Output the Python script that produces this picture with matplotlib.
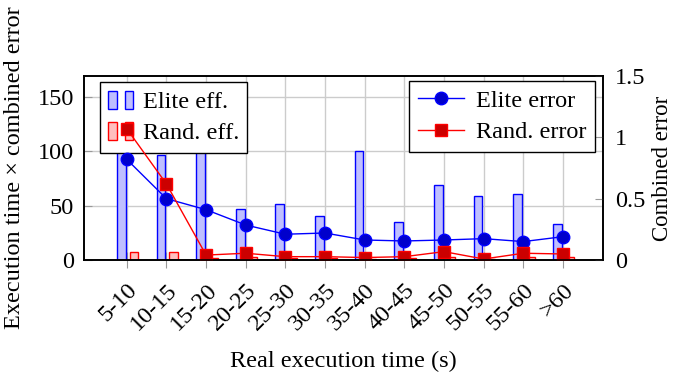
import numpy as np
import matplotlib.pyplot as plt
import matplotlib.transforms as mtrans
from matplotlib.patches import Patch
from matplotlib.legend_handler import HandlerTuple

plt.rcParams['font.family'] = ['Liberation Serif', 'DejaVu Serif']
plt.rcParams['font.size'] = 17.5

cats = ['5-10', '10-15', '15-20', '20-25', '25-30', '30-35', '35-40',
        '40-45', '45-50', '50-55', '55-60', '>60']
elite_eff = [120, 96, 105, 47, 51, 40.5, 100, 35, 69, 59, 60.5, 33.5]
rand_eff = [7.5, 7.5, 2, 2.5, 1.5, 1.5, 1, 1.5, 3, 1, 3, 3]
elite_err = [0.82, 0.50, 0.41, 0.285, 0.21, 0.22, 0.163, 0.155, 0.163, 0.174, 0.15, 0.19]
rand_err = [1.07, 0.62, 0.04, 0.055, 0.027, 0.027, 0.02, 0.027, 0.068, 0.008, 0.055, 0.049]

x = np.arange(len(cats))

fig = plt.figure(figsize=(6.75, 3.75), dpi=100)
ax = fig.add_axes([0.1244, 0.3067, 0.7689, 0.4906])
ax2 = ax.twinx()

ax.set_axisbelow(True)
ax.grid(True, color='#cccccc', linewidth=1)
ax.bar(x - 0.14, elite_eff, 0.22, color='#bfbfff', edgecolor='#0000ff', linewidth=1)
ax.bar(x + 0.18, rand_eff, 0.22, color='#ffbfbf', edgecolor='#ff0000', linewidth=1)

ax2.plot(x, elite_err, color='#0000ff', lw=1, marker='o', ms=9,
         mfc='#0000cc', mec='#0000ff', label='Elite error')
ax2.plot(x, rand_err, color='#ff0000', lw=1, marker='s', ms=8.5,
         mfc='#cc0000', mec='#ff0000', label='Rand. error')

ax.set_xlim(-1.08, 12.01)
ax.set_ylim(0, 169)
ax2.set_ylim(0, 1.5)
ax.set_xticks(x)
ax.set_xticklabels(cats, rotation=45, ha='right', rotation_mode='anchor')
shift = mtrans.ScaledTranslation(0.09, 0, fig.dpi_scale_trans)
for lab in ax.get_xticklabels():
    lab.set_transform(lab.get_transform() + shift)
ax.set_yticks([0, 50, 100, 150])
ax2.set_yticks([0, 0.5, 1, 1.5])
ax2.set_yticklabels(['0', '0.5', '1', '1.5'])
ax.tick_params(axis='x', direction='inout', length=12, color='#999999', pad=8)
ax.tick_params(axis='y', direction='in', length=6, color='#999999', pad=7)
ax2.tick_params(axis='y', direction='in', length=6, color='#999999', pad=8.5)
for a in (ax, ax2):
    for s in a.spines.values():
        s.set_linewidth(1.2)

ax.set_xlabel('Real execution time (s)', labelpad=12)
ax.set_ylabel('Execution time × combined error', labelpad=9)
ax2.set_ylabel('Combined error', labelpad=5, fontsize=16.5)

h1 = (Patch(fc='#bfbfff', ec='#0000ff'), Patch(fc='#bfbfff', ec='#0000ff'))
h2 = (Patch(fc='#ffbfbf', ec='#ff0000'), Patch(fc='#ffbfbf', ec='#ff0000'))
leg1 = ax.legend([h1, h2], ['Elite eff.', 'Rand. eff.'], loc='upper left',
                 bbox_to_anchor=(16 / 519, 1 - 6 / 184),
                 handler_map={tuple: HandlerTuple(ndivide=None, pad=0.33)},
                 fancybox=False, edgecolor='black', framealpha=1,
                 handlelength=1.0, handleheight=0.78, handletextpad=0.4,
                 labelspacing=0.35, borderpad=0.35, borderaxespad=0)
leg1.get_frame().set_linewidth(1)
leg2 = ax2.legend(loc='upper right', bbox_to_anchor=(1 - 8 / 519, 1 - 5 / 184),
                  fancybox=False, edgecolor='black', framealpha=1,
                  handlelength=1.9, handletextpad=0.5, labelspacing=0.4,
                  borderpad=0.35, borderaxespad=0)
leg2.get_frame().set_linewidth(1)

fig.savefig('out.png', dpi=100)
